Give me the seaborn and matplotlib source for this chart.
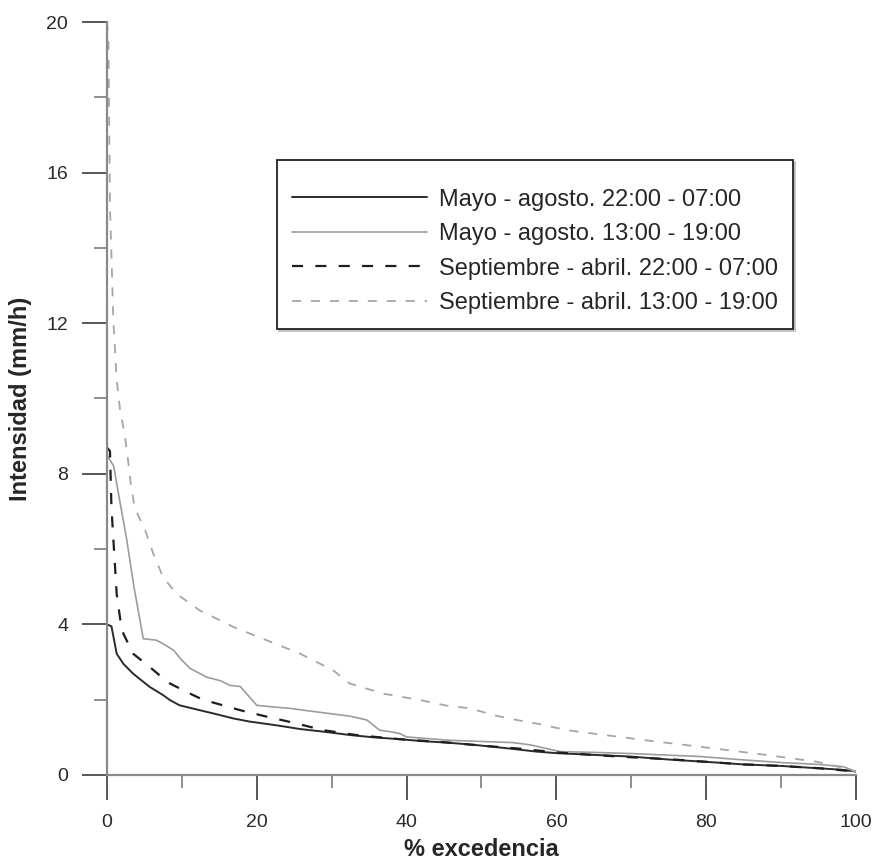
import matplotlib
matplotlib.use("Agg")
import matplotlib.pyplot as plt
from matplotlib.ticker import MultipleLocator
import seaborn as sns
import pandas as pd

# Exceedance curves of rainfall intensity (mm/h) by season and time window
labels = [
    "Mayo - agosto. 22:00 - 07:00",
    "Mayo - agosto. 13:00 - 19:00",
    "Septiembre - abril. 22:00 - 07:00",
    "Septiembre - abril. 13:00 - 19:00",
]

may_night_x = [0, 0.6, 1.3, 2.2, 3.5, 5.7, 7.5, 8.4, 9.7, 12.4, 14.5, 16.9, 19.0, 22.6,
               25.8, 28.9, 32.5, 35.6, 39.1, 42.0, 45.4, 49.0, 53.4, 57.4, 60.0, 65.4,
               69.8, 75.0, 81.4, 85.0, 90.0, 94.8, 98.0, 100]
may_night_y = [4.0, 3.95, 3.22, 2.95, 2.69, 2.34, 2.12, 1.99, 1.85, 1.72, 1.62, 1.5, 1.42, 1.32,
               1.22, 1.15, 1.06, 1.0, 0.95, 0.9, 0.86, 0.8, 0.71, 0.62, 0.58, 0.53,
               0.49, 0.41, 0.33, 0.28, 0.24, 0.18, 0.14, 0.09]

may_day_x = [0, 0.9, 1.6, 2.6, 3.6, 4.85, 6.6, 7.8, 8.9, 10.0, 11.1, 13.3, 15.2, 16.4, 17.8,
             20.0, 22.0, 24.4, 27.0, 29.8, 32.5, 34.7, 36.4, 37.8, 39.1, 40.0, 45.8, 50.0,
             54.2, 56.5, 60.5, 65.0, 69.8, 79.2, 85.0, 90.0, 95.0, 98.3, 100]
may_day_y = [8.5, 8.2, 7.4, 6.3, 5.0, 3.62, 3.58, 3.45, 3.31, 3.05, 2.83, 2.6, 2.5, 2.38, 2.35,
             1.85, 1.81, 1.77, 1.7, 1.63, 1.56, 1.46, 1.19, 1.15, 1.1, 1.01, 0.92, 0.89,
             0.86, 0.8, 0.62, 0.6, 0.57, 0.49, 0.4, 0.33, 0.28, 0.22, 0.09]

sep_night_x = [0, 0.4, 0.6, 1.3, 1.8, 2.2, 3.5, 5.7, 7.3, 8.4, 11.1, 12.8, 14.6, 17.8, 21.3,
               24.4, 28.9, 33.3, 39.1, 45.0, 50.0, 55.0, 60.0, 65.0, 70.0, 75.0, 80.0,
               85.0, 90.0, 95.0, 100]
sep_night_y = [8.7, 8.6, 7.1, 4.8, 4.1, 3.75, 3.22, 2.87, 2.6, 2.43, 2.16, 2.0, 1.9, 1.72, 1.55,
               1.41, 1.19, 1.06, 0.95, 0.87, 0.78, 0.7, 0.6, 0.53, 0.47, 0.42, 0.35,
               0.28, 0.24, 0.18, 0.09]

sep_day_x = [0, 0.2, 0.4, 0.6, 0.85, 1.3, 1.75, 2.4, 2.85, 3.2, 3.7, 5.1, 6.2, 7.5, 9.3, 12.4,
             16.9, 21.3, 25.8, 30.2, 32.4, 36.9, 41.8, 45.4, 48.5, 51.6, 54.7, 57.8, 61.4,
             64.9, 68.5, 72.0, 79.2, 84.0, 88.1, 94.8, 97.0, 100]
sep_day_y = [20.0, 19.5, 15.1, 13.8, 12.05, 10.5, 9.7, 9.0, 8.3, 7.7, 7.1, 6.5, 5.87, 5.25, 4.81,
             4.37, 3.93, 3.58, 3.22, 2.78, 2.43, 2.16, 1.99, 1.84, 1.77, 1.59, 1.46, 1.35,
             1.19, 1.1, 1.01, 0.92, 0.75, 0.63, 0.53, 0.35, 0.25, 0.09]

series_x = [may_night_x, may_day_x, sep_night_x, sep_day_x]
series_y = [may_night_y, may_day_y, sep_night_y, sep_day_y]

styles = [
    dict(color="#2b2b2b", linewidth=1.4, linestyle="-"),
    dict(color="#9c9c9c", linewidth=1.2, linestyle="-"),
    dict(color="#1e1e1e", linewidth=1.6, linestyle=(0, (5, 5.5))),
    dict(color="#a6a6a6", linewidth=1.3, linestyle=(0, (5, 5.5))),
]

sns.set_style("ticks")
plt.rcParams["font.family"] = ["Liberation Sans", "DejaVu Sans"]

fig = plt.figure(figsize=(8.76, 8.63), dpi=100)
ax = fig.add_axes([0.1221, 0.102, 0.8551, 0.8725])

for lab, xs, ys, st in zip(labels, series_x, series_y, styles):
    df = pd.DataFrame({"x": xs, "y": ys})
    sns.lineplot(data=df, x="x", y="y", ax=ax, sort=False, estimator=None,
                 label=lab, **st)

ax.set_xlim(0, 100)
ax.set_ylim(0, 20)
ax.margins(0)

ax.xaxis.set_major_locator(MultipleLocator(20))
ax.xaxis.set_minor_locator(MultipleLocator(10))
ax.yaxis.set_major_locator(MultipleLocator(4))
ax.yaxis.set_minor_locator(MultipleLocator(2))

for side in ("top", "right"):
    ax.spines[side].set_visible(False)
for side in ("left", "bottom"):
    ax.spines[side].set_color("#8a8a8a")
    ax.spines[side].set_linewidth(1.6)

ax.tick_params(which="major", direction="out", length=18, width=1.3,
               color="#4a4a4a", labelsize=14, labelcolor="#2a2a2a", pad=10)
ax.tick_params(which="minor", direction="out", length=9.5, width=1.2,
               color="#7a7a7a")

ax.set_xlabel("% excedencia", fontsize=17, fontweight="bold", labelpad=5)
ax.set_ylabel("Intensidad (mm/h)", fontsize=17, fontweight="bold", labelpad=10)

# a tiny blank title adds the extra room above the first entry
leg = ax.legend(loc="upper left", bbox_to_anchor=(0.227, 0.8167),
                fontsize=17, handlelength=5.73, handletextpad=0.485,
                borderpad=0.64, labelspacing=0.53, borderaxespad=0,
                title=" ", title_fontsize=1,
                frameon=True, fancybox=False, framealpha=1,
                shadow={"color": "0.75", "alpha": 1, "ox": 1.5, "oy": -1.5})
leg.get_frame().set_edgecolor("#222222")
leg.get_frame().set_linewidth(1.3)

fig.savefig("out.png", dpi=100, facecolor="white")
